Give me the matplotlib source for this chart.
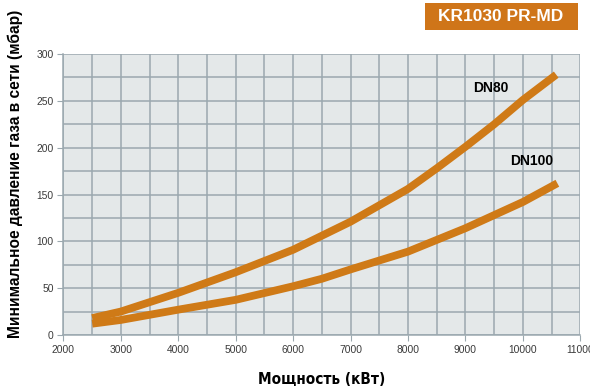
import matplotlib.pyplot as plt
import numpy as np
from matplotlib.ticker import MultipleLocator
from matplotlib.patches import Rectangle

# data
power = [2500, 3000, 4000, 5000, 6000, 7000, 8000, 8500, 9000, 9500, 10000, 10580]
dn80 = [18, 25, 45, 67, 91, 121, 156, 178, 201, 225, 251, 278]
power100 = [2500, 3000, 4000, 5000, 6000, 6500, 7000, 8000, 9000, 10000, 10600]
dn100 = [12, 16, 27, 37.5, 52, 60, 70, 89, 114, 142, 162]

orange = '#cf7a17'
gridc = '#9ba8af'

fig = plt.figure(figsize=(5.9, 3.89), dpi=100)
ax = fig.add_axes([0.1076, 0.139, 0.876, 0.722])
ax.set_facecolor('#e4e8e9')

ax.plot(power, dn80, color=orange, lw=5.6, solid_capstyle='butt', solid_joinstyle='round', zorder=3)
ax.plot(power100, dn100, color=orange, lw=5.6, solid_capstyle='butt', solid_joinstyle='round', zorder=3)

ax.set_xlim(2000, 11000)
ax.set_ylim(0, 300)
ax.xaxis.set_major_locator(MultipleLocator(1000))
ax.xaxis.set_minor_locator(MultipleLocator(500))
ax.yaxis.set_major_locator(MultipleLocator(50))
ax.yaxis.set_minor_locator(MultipleLocator(25))
ax.grid(which='both', color=gridc, lw=1.1, zorder=1)
ax.set_axisbelow(True)

for s in ['top', 'right']:
    ax.spines[s].set_visible(False)
for s in ['left', 'bottom']:
    ax.spines[s].set_color(gridc)
    ax.spines[s].set_linewidth(1.1)

ax.tick_params(which='major', length=4, color=gridc, labelsize=7.4, labelcolor='#3a3a3a', pad=3,
               labelfontfamily='Liberation Sans')
ax.tick_params(which='minor', length=0)

ax.text(9440, 264, 'DN80', fontsize=10, fontweight='bold', ha='center', va='center', family='Liberation Sans')
ax.text(10145, 186, 'DN100', fontsize=10, fontweight='bold', ha='center', va='center', family='Liberation Sans')

ax.set_xlabel('Мощность (кВт)', fontsize=11, fontweight='bold', family='DejaVu Sans',
              fontstretch='condensed')
ax.xaxis.set_label_coords(0.5, -0.157)
ax.xaxis.label.set_va('center')
ax.set_ylabel('Минимальное давление газа в сети (мбар)', fontsize=11.2, fontweight='bold',
              family='Liberation Sans')
ax.yaxis.set_label_coords(-0.094, 0.573)
ax.yaxis.label.set_va('center')

# orange title box, top right
W, H = 590, 389
fig.patches.append(Rectangle((425 / W, 1 - 30 / H), 153 / W, 27 / H, transform=fig.transFigure,
                             fc='#cf7519', ec='none'))
fig.text(501 / W, 1 - 16.5 / H, 'KR1030 PR-MD', color='white', fontsize=12.5, fontweight='bold',
         ha='center', va='center', family='Liberation Sans')

fig.savefig('out.png', dpi=100)
